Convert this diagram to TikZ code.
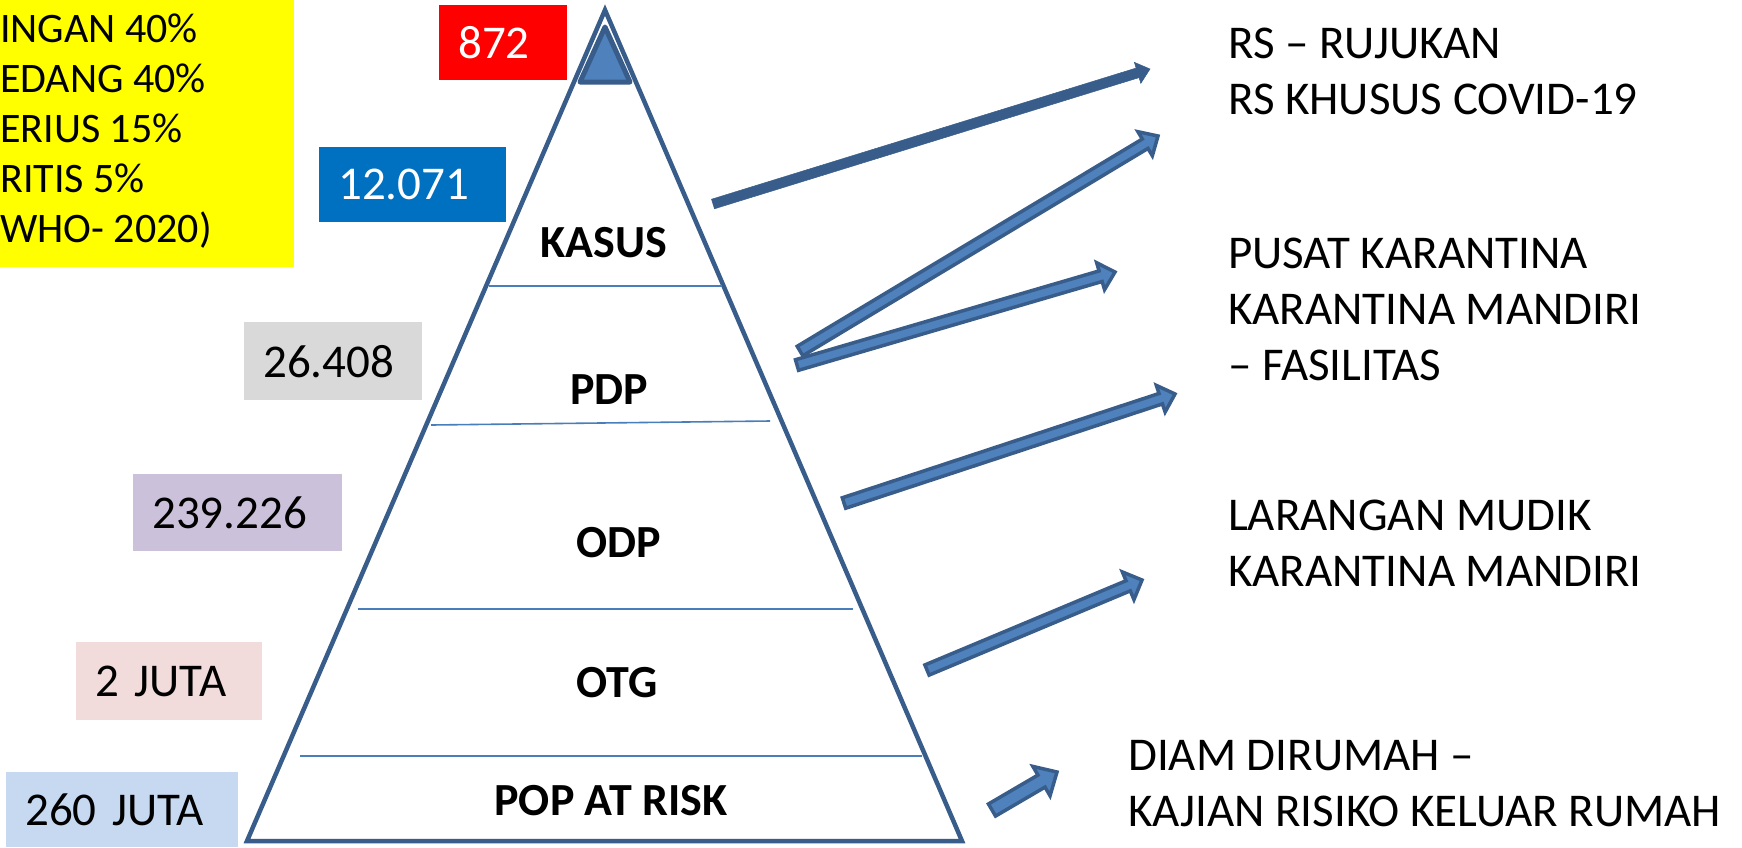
\documentclass[tikz,border=0pt]{standalone}
\usepackage{fontspec}
\setmainfont{Carlito}
\usetikzlibrary{calc}
\definecolor{odark}{HTML}{385D8A}
\definecolor{olight}{HTML}{4F81BD}
\definecolor{othin}{HTML}{4A7EBB}
\definecolor{ored}{HTML}{FF0000}
\definecolor{oblue}{HTML}{0070C0}
\definecolor{ogray}{HTML}{D9D9D9}
\definecolor{opurple}{HTML}{CCC1DA}
\definecolor{opink}{HTML}{F2DCDB}
\definecolor{olblue}{HTML}{C6D9F1}
\definecolor{oyellow}{HTML}{FFFF00}
% #1 start, #2 end, #3 half shaft, #4 half head, #5 head length, #6 style
\newcommand\blockarrow[6]{%
  \coordinate (baq) at ($(#2)!#5!(#1)$);
  \path[#6] ($(#1)!#3!90:(#2)$) -- ($(baq)!#3!-90:(#1)$) -- ($(baq)!#4!-90:(#1)$)
    -- (#2) -- ($(baq)!#4!90:(#1)$) -- ($(baq)!#3!90:(#1)$) -- ($(#1)!#3!-90:(#2)$) -- cycle;}
\begin{document}
\begin{tikzpicture}[x=1pt,y=-1pt,
  numbox/.style={anchor=north west, inner xsep=19pt, inner ysep=0pt, align=left,
    font=\fontsize{47}{47}\selectfont},
  rtext/.style={anchor=west, inner sep=0pt, align=left, font=\fontsize{47}{56}\selectfont},
  layer/.style={inner sep=0pt, font=\fontsize{46}{46}\selectfont\bfseries},
  divider/.style={othin, line width=1.6pt},
  hollowarrow/.style={draw=odark, fill=olight, line width=3.5pt, line join=miter},
  solidarrow/.style={fill=odark, draw=odark, line width=0.5pt, line join=miter}]
\useasboundingbox (0,0) rectangle (1742,847);
\fill[white] (0,0) rectangle (1742,847);

% yellow note
\fill[oyellow] (0,0) rectangle (294,267);
\node[anchor=west, inner sep=0pt, align=left, font=\fontsize{42}{50}\selectfont] (note) at (0,131)
  {INGAN 40\%\\EDANG 40\%\\ERIUS 15\%\\RITIS 5\%\\WHO- 2020)};

% number boxes
\node[numbox, fill=ored, text=white, minimum height=75pt, text width=90pt] (n872) at (439,5) {872};
\node[numbox, fill=oblue, text=white, minimum height=75pt, text width=149pt] (n12) at (319,147) {12.071};
\node[numbox, fill=ogray, minimum height=78pt, text width=140pt] (n26) at (244,322) {26.408};
\node[numbox, fill=opurple, minimum height=77pt, text width=171pt] (n239) at (133,474) {239.226};
\node[numbox, fill=opink, minimum height=78pt, text width=148pt] (n2j) at (76,642) {2 JUTA};
\node[numbox, fill=olblue, minimum height=75pt, text width=194pt] (n260) at (6,772) {260 JUTA};

% pyramid
\coordinate (apex) at (605,10);
\coordinate (bl) at (247,841);
\coordinate (br) at (962,841);
\draw[odark, line width=4.5pt, line join=miter] (apex) -- (br) -- (bl) -- cycle;
\draw[odark, fill=olight, line width=5pt, line join=round] (605,27) -- (630,82) -- (580,82) -- cycle;

\draw[divider] (489,286) -- (722,286);
\draw[divider] (431,425) -- (770,421);
\draw[divider] (358,609) -- (853,609);
\draw[divider] (300,756) -- (922,756);

\node[layer] (kasus) at (604,243) {KASUS};
\node[layer] (pdp) at (609,390) {PDP};
\node[layer] (odp) at (619,543) {ODP};
\node[layer] (otg) at (617,683) {OTG};
\node[layer] (pop) at (611,801) {POP AT RISK};

% right texts
\node[rtext] (t1) at (1228,71) {RS – RUJUKAN\\RS KHUSUS COVID-19};
\node[rtext] (t2) at (1228,309) {PUSAT KARANTINA\\KARANTINA MANDIRI\\– FASILITAS};
\node[rtext] (t3) at (1228,543) {LARANGAN MUDIK\\KARANTINA MANDIRI};
\node[rtext] (t4) at (1128,784) {DIAM DIRUMAH –\\KAJIAN RISIKO KELUAR RUMAH};

% arrows
\coordinate (a1s) at (713,204); \coordinate (a1e) at (1150,69);
\coordinate (a2s) at (800,351); \coordinate (a2e) at (1158,136);
\coordinate (a3s) at (797,365); \coordinate (a3e) at (1115,272);
\coordinate (a4s) at (844,503); \coordinate (a4e) at (1175,394);
\coordinate (a5s) at (927,670); \coordinate (a5e) at (1142,580);
\coordinate (a6s) at (992,810); \coordinate (a6e) at (1057,772);

\blockarrow{a1s}{a1e}{5pt}{11pt}{13pt}{solidarrow}
\blockarrow{a2s}{a2e}{5.5pt}{14pt}{15pt}{hollowarrow}
\blockarrow{a3s}{a3e}{5.5pt}{14pt}{15pt}{hollowarrow}
\blockarrow{a4s}{a4e}{5.5pt}{14pt}{15pt}{hollowarrow}
\blockarrow{a5s}{a5e}{5.5pt}{15pt}{15pt}{hollowarrow}
\blockarrow{a6s}{a6e}{7pt}{17pt}{18pt}{hollowarrow}
\end{tikzpicture}
\end{document}
